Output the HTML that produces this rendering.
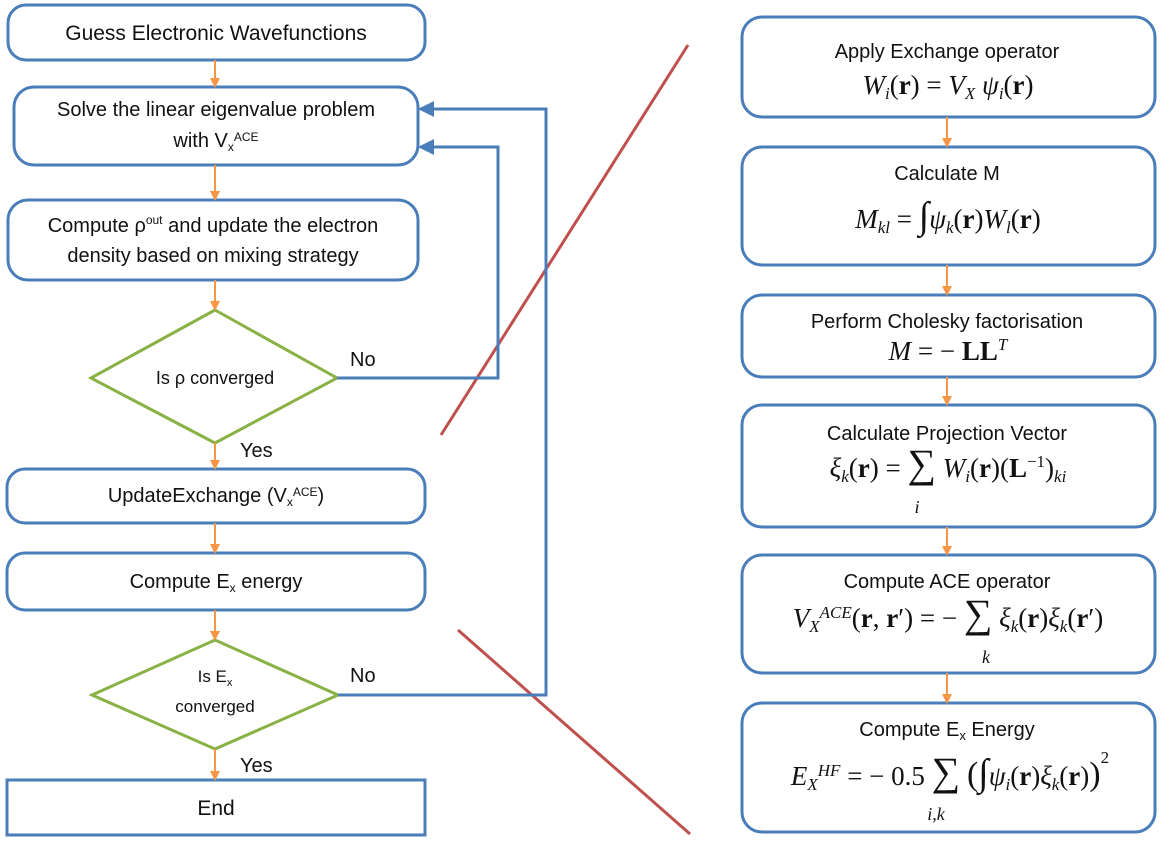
<!DOCTYPE html>
<html><head><meta charset="utf-8"><style>
html,body{margin:0;padding:0;background:#fff;}
svg{display:block;}
.l{font-family:"Liberation Sans",sans-serif;font-size:20px;fill:#111;}
.t{font-family:"Liberation Sans",sans-serif;font-size:20px;fill:#111;}
.m{font-family:"Liberation Serif",serif;font-size:27px;fill:#111;}
.i{font-style:italic;}
.b{font-weight:bold;}
</style></head><body>
<svg width="1162" height="846" viewBox="0 0 1162 846" xmlns="http://www.w3.org/2000/svg">
<defs>
<marker id="ao" markerWidth="10" markerHeight="10" refX="8" refY="5" orient="auto" markerUnits="userSpaceOnUse"><path d="M0,0 L10,5 L0,10 z" fill="#f79646"/></marker>
<marker id="ab" markerWidth="16" markerHeight="16" refX="14" refY="8" orient="auto" markerUnits="userSpaceOnUse"><path d="M0,0 L16,8 L0,16 z" fill="#4a7ebb"/></marker>
</defs>
<g fill="#fff" stroke="#4a7ebb" stroke-width="3">
<rect x="8" y="5" width="417" height="55" rx="18"/>
<rect x="14" y="87" width="404" height="78" rx="20"/>
<rect x="8" y="200" width="410" height="80" rx="20"/>
<rect x="7" y="469" width="418" height="54" rx="18"/>
<rect x="7" y="553" width="418" height="57" rx="18"/>
<rect x="7" y="780" width="418" height="55"/>
<rect x="742" y="17" width="413" height="100" rx="20"/>
<rect x="742" y="147" width="413" height="118" rx="20"/>
<rect x="742" y="295" width="413" height="82" rx="20"/>
<rect x="742" y="405" width="413" height="122" rx="20"/>
<rect x="742" y="555" width="413" height="118" rx="20"/>
<rect x="742" y="703" width="413" height="129" rx="20"/>
</g>
<g fill="#fff" stroke="#8ab145" stroke-width="3">
<polygon points="215,310 337,378 215,443 91,378"/>
<polygon points="215,640 338,695 215,749 92,695"/>
</g>
<g stroke="#f79646" stroke-width="2" marker-end="url(#ao)">
<line x1="215" y1="60" x2="215" y2="86"/>
<line x1="215" y1="165" x2="215" y2="199"/>
<line x1="215" y1="280" x2="215" y2="309"/>
<line x1="215" y1="443" x2="215" y2="468"/>
<line x1="215" y1="523" x2="215" y2="552"/>
<line x1="215" y1="610" x2="215" y2="639"/>
<line x1="215" y1="749" x2="215" y2="779"/>
<line x1="947" y1="117" x2="947" y2="146"/>
<line x1="947" y1="265" x2="947" y2="294"/>
<line x1="947" y1="377" x2="947" y2="404"/>
<line x1="947" y1="527" x2="947" y2="554"/>
<line x1="947" y1="673" x2="947" y2="702"/>
</g>
<g stroke="#c0504d" stroke-width="3">
<line x1="688" y1="45" x2="441" y2="435"/>
<line x1="458" y1="630" x2="690" y2="834"/>
</g>
<g fill="none" stroke="#4a7ebb" stroke-width="3">
<polyline points="337,378 498,378 498,147 420,147" marker-end="url(#ab)"/>
<polyline points="338,695 546,695 546,109 420,109" marker-end="url(#ab)"/>
</g>
<g class="l" text-anchor="middle">
<text x="216" y="40" font-size="21">Guess Electronic Wavefunctions</text>
<text x="216" y="116">Solve the linear eigenvalue problem</text>
<text x="216" y="147">with V<tspan font-size="12" dy="4">x</tspan><tspan font-size="12" dy="-10">ACE</tspan></text>
<text x="213" y="232">Compute ρ<tspan font-size="12" dy="-8">out</tspan><tspan dy="8"> and update the electron</tspan></text>
<text x="213" y="262">density based on mixing strategy</text>
<text x="215" y="384" font-size="18">Is ρ converged</text>
<text x="216" y="502">UpdateExchange (V<tspan font-size="12" dy="4">x</tspan><tspan font-size="12" dy="-10">ACE</tspan><tspan dy="6">)</tspan></text>
<text x="216" y="588">Compute E<tspan font-size="12" dy="4">x</tspan><tspan dy="-4"> energy</tspan></text>
<text x="215" y="682" font-size="17">Is E<tspan font-size="11" dy="4">x</tspan></text>
<text x="215" y="712" font-size="17">converged</text>
<text x="216" y="815" font-size="21">End</text>
</g>
<g class="l" font-size="17">
<text x="350" y="366">No</text>
<text x="240" y="457">Yes</text>
<text x="350" y="682">No</text>
<text x="240" y="772">Yes</text>
</g>
<g class="t" text-anchor="middle">
<text x="947" y="58">Apply Exchange operator</text>
<text x="947" y="180">Calculate M</text>
<text x="947" y="328">Perform Cholesky factorisation</text>
<text x="947" y="440">Calculate Projection Vector</text>
<text x="947" y="588">Compute ACE operator</text>
<text x="947" y="736">Compute E<tspan font-size="13" dy="4">x</tspan><tspan dy="-4"> Energy</tspan></text>
</g>
<g class="m" text-anchor="middle">
<text x="948" y="94"><tspan class="i">W</tspan><tspan class="i" font-size="17" dy="5">i</tspan><tspan dy="-5">(</tspan><tspan class="b">r</tspan>) = <tspan class="i">V</tspan><tspan class="i" font-size="17" dy="5">X</tspan><tspan dy="-5">  </tspan><tspan class="i">ψ</tspan><tspan class="i" font-size="17" dy="5">i</tspan><tspan dy="-5">(</tspan><tspan class="b">r</tspan>)</text>
<text x="948" y="228"><tspan class="i">M</tspan><tspan class="i" font-size="17" dy="5">kl</tspan><tspan dy="-5"> = </tspan><tspan font-size="38">∫</tspan><tspan class="i">ψ</tspan><tspan class="i" font-size="17" dy="5">k</tspan><tspan dy="-5">(</tspan><tspan class="b">r</tspan>)<tspan class="i">W</tspan><tspan class="i" font-size="17" dy="5">l</tspan><tspan dy="-5">(</tspan><tspan class="b">r</tspan>)</text>
<text x="948" y="360"><tspan class="i">M</tspan> = − <tspan class="b">LL</tspan><tspan class="i" font-size="17" dy="-10">T</tspan></text>
<text x="948" y="477"><tspan class="i">ξ</tspan><tspan class="i" font-size="17" dy="5">k</tspan><tspan dy="-5">(</tspan><tspan class="b">r</tspan>) = <tspan font-size="40">∑</tspan> <tspan class="i">W</tspan><tspan class="i" font-size="17" dy="5">i</tspan><tspan dy="-5">(</tspan><tspan class="b">r</tspan>)(<tspan class="b">L</tspan><tspan font-size="17" dy="-10">−1</tspan><tspan dy="10">)</tspan><tspan class="i" font-size="17" dy="5">ki</tspan></text>
<text x="917" y="513" class="i" font-size="18">i</text>
<text x="948" y="627"><tspan class="i">V</tspan><tspan class="i" font-size="17" dy="5">X</tspan><tspan class="i" font-size="17" dy="-14">ACE</tspan><tspan dy="9">(</tspan><tspan class="b">r</tspan>, <tspan class="b">r</tspan>′) = − <tspan font-size="40">∑</tspan> <tspan class="i">ξ</tspan><tspan class="i" font-size="17" dy="5">k</tspan><tspan dy="-5">(</tspan><tspan class="b">r</tspan>)<tspan class="i">ξ</tspan><tspan class="i" font-size="17" dy="5">k</tspan><tspan dy="-5">(</tspan><tspan class="b">r</tspan>′)</text>
<text x="986" y="663" class="i" font-size="18">k</text>
<text x="950" y="785"><tspan class="i">E</tspan><tspan class="i" font-size="17" dy="5">X</tspan><tspan class="i" font-size="17" dy="-14">HF</tspan><tspan dy="9"> = − 0.5 </tspan><tspan font-size="40">∑</tspan> <tspan font-size="34">(</tspan><tspan font-size="38">∫</tspan><tspan class="i">ψ</tspan><tspan class="i" font-size="17" dy="5">i</tspan><tspan dy="-5">(</tspan><tspan class="b">r</tspan>)<tspan class="i">ξ</tspan><tspan class="i" font-size="17" dy="5">k</tspan><tspan dy="-5">(</tspan><tspan class="b">r</tspan>)<tspan font-size="34">)</tspan><tspan font-size="17" dy="-22">2</tspan></text>
<text x="936" y="820" class="i" font-size="18">i,k</text>
</g>
</svg>
</body></html>
